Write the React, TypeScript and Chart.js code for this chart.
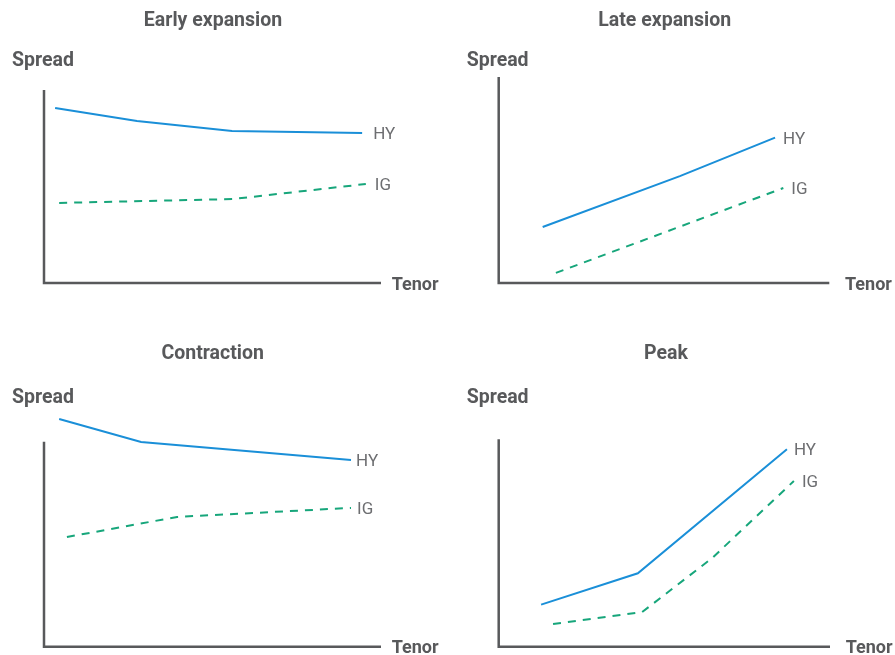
import React, { useEffect, useRef } from "react";
import { Chart, registerables } from "chart.js";

Chart.register(...registerables);

// ---- Data (abstract units: x = tenor 0..100, y = spread 0..100) ----
const panelTitles = ["Early expansion", "Late expansion", "Contraction", "Peak"];
const seriesNames = ["HY", "IG"];
const yAxisLabel = "Spread";
const xAxisLabel = "Tenor";

const earlyHyX = [3.3, 27.6, 55.8, 94.4];
const earlyHyY = [90.7, 83.9, 78.8, 77.7];
const earlyIgX = [4.5, 56.1, 95.5];
const earlyIgY = [41.5, 43.5, 51.3];

const lateHyX = [13.3, 54.8, 83.6];
const lateHyY = [27.2, 51.9, 70.6];
const lateIgX = [17.3, 86.1];
const lateIgY = [4.9, 46.1];

const contrHyX = [4.5, 28.8, 91.1];
const contrHyY = [111.1, 99.9, 91.1];
const contrIgX = [6.8, 39.5, 91.1];
const contrIgY = [53.5, 63.3, 67.7];

const peakHyX = [12.8, 42.0, 87.0];
const peakHyY = [20.3, 35.4, 95.2];
const peakIgX = [16.4, 43.3, 64.4, 89.1];
const peakIgY = [10.9, 16.7, 42.7, 79.9];

// ---- Styles ----
const HY_COLOR = "#1a8fd8";
const IG_COLOR = "#17a67b";
const AXIS_COLOR = "#58595b";
const TEXT_DARK = "#58595b";
const TEXT_LIGHT = "#6d6e71";
const FONT = "Roboto, 'Noto Sans', sans-serif";

type PanelCfg = {
  title: string;
  hy: [number[], number[]];
  ig: [number[], number[]];
  left: number; top: number; w: number; h: number;
  area: { l: number; t: number; r: number; b: number };
  titleX: number; titleY: number;
  spreadX: number; spreadY: number;
  tenorGap: number;
  hyGap: number; igGap: number;
};

const panels: PanelCfg[] = [
  {
    title: panelTitles[0], hy: [earlyHyX, earlyHyY], ig: [earlyIgX, earlyIgY],
    left: 0, top: 0, w: 445, h: 330,
    area: { l: 44, t: 90, r: 381, b: 283 },
    titleX: 213, titleY: 26, spreadX: 12, spreadY: 66, tenorGap: 10.7, hyGap: 11, igGap: 9,
  },
  {
    title: panelTitles[1], hy: [lateHyX, lateHyY], ig: [lateIgX, lateIgY],
    left: 445, top: 0, w: 450, h: 330,
    area: { l: 53.7, t: 77, r: 384.3, b: 283 },
    titleX: 219.7, titleY: 26, spreadX: 21.7, spreadY: 66, tenorGap: 15.7, hyGap: 8, igGap: 8,
  },
  {
    title: panelTitles[2], hy: [contrHyX, contrHyY], ig: [contrIgX, contrIgY],
    left: 0, top: 330, w: 445, h: 325,
    area: { l: 44, t: 111.7, r: 381, b: 316.7 },
    titleX: 212.7, titleY: 29, spreadX: 12, spreadY: 73, tenorGap: 10.7, hyGap: 5, igGap: 6,
  },
  {
    title: panelTitles[3], hy: [peakHyX, peakHyY], ig: [peakIgX, peakIgY],
    left: 445, top: 330, w: 450, h: 325,
    area: { l: 53.7, t: 109.3, r: 385, b: 316.7 },
    titleX: 221, titleY: 29, spreadX: 21.7, spreadY: 73, tenorGap: 15.7, hyGap: 7, igGap: 8,
  },
];

function toPoints(xs: number[], ys: number[]) {
  return xs.map((x, i) => ({ x, y: ys[i] }));
}

function Panel({ cfg }: { cfg: PanelCfg }) {
  const ref = useRef<HTMLCanvasElement | null>(null);
  useEffect(() => {
    if (!ref.current) return;
    const decor = {
      id: "decor",
      beforeDatasetsDraw(chart: any) {
        const { ctx, chartArea } = chart;
        ctx.save();
        ctx.strokeStyle = AXIS_COLOR;
        ctx.lineWidth = 2.5;
        ctx.lineCap = "butt";
        ctx.beginPath();
        ctx.moveTo(chartArea.left, chartArea.top);
        ctx.lineTo(chartArea.left, chartArea.bottom);
        ctx.lineTo(chartArea.right, chartArea.bottom);
        ctx.stroke();
        ctx.restore();
      },
      afterDraw(chart: any) {
        const { ctx, chartArea } = chart;
        ctx.save();
        ctx.fillStyle = TEXT_DARK;
        ctx.textBaseline = "alphabetic";
        ctx.font = `bold 19.5px ${FONT}`;
        ctx.textAlign = "center";
        ctx.fillText(cfg.title, cfg.titleX, cfg.titleY);
        ctx.textAlign = "left";
        ctx.fillText(yAxisLabel, cfg.spreadX, cfg.spreadY);
        ctx.font = `bold 18px ${FONT}`;
        ctx.fillText(xAxisLabel, chartArea.right + cfg.tenorGap, chartArea.bottom + 6.5);
        ctx.font = `17px ${FONT}`;
        ctx.fillStyle = TEXT_LIGHT;
        const gaps = [cfg.hyGap, cfg.igGap];
        chart.data.datasets.forEach((ds: any, i: number) => {
          const meta = chart.getDatasetMeta(i);
          const last = meta.data[meta.data.length - 1];
          ctx.fillText(ds.label, last.x + gaps[i], last.y + 6);
        });
        ctx.restore();
      },
    };
    const chart = new Chart(ref.current, {
      type: "line",
      data: {
        datasets: [
          {
            label: seriesNames[0],
            data: toPoints(cfg.hy[0], cfg.hy[1]),
            borderColor: HY_COLOR,
            borderWidth: 2,
            pointRadius: 0,
            tension: 0,
            clip: false as any,
          },
          {
            label: seriesNames[1],
            data: toPoints(cfg.ig[0], cfg.ig[1]),
            borderColor: IG_COLOR,
            borderWidth: 2,
            borderDash: [8, 7],
            pointRadius: 0,
            tension: 0,
            clip: false as any,
          },
        ],
      },
      options: {
        animation: false,
        responsive: false,
        layout: {
          padding: {
            left: cfg.area.l,
            top: cfg.area.t,
            right: cfg.w - cfg.area.r,
            bottom: cfg.h - cfg.area.b,
          },
        },
        scales: {
          x: { type: "linear", min: 0, max: 100, display: false },
          y: { type: "linear", min: 0, max: 100, display: false },
        },
        plugins: {
          legend: { display: false },
          tooltip: { enabled: false },
        },
        events: [],
      },
      plugins: [decor],
    });
    return () => chart.destroy();
  }, [cfg]);
  return (
    <canvas
      ref={ref}
      width={cfg.w}
      height={cfg.h}
      style={{ position: "absolute", left: cfg.left, top: cfg.top, width: cfg.w, height: cfg.h }}
    />
  );
}

export default function App() {
  return (
    <div style={{ position: "absolute", left: 0, top: 0, width: 895, height: 655, background: "#fff", overflow: "hidden" }}>
      {panels.map((p, i) => (
        <Panel key={i} cfg={p} />
      ))}
    </div>
  );
}
